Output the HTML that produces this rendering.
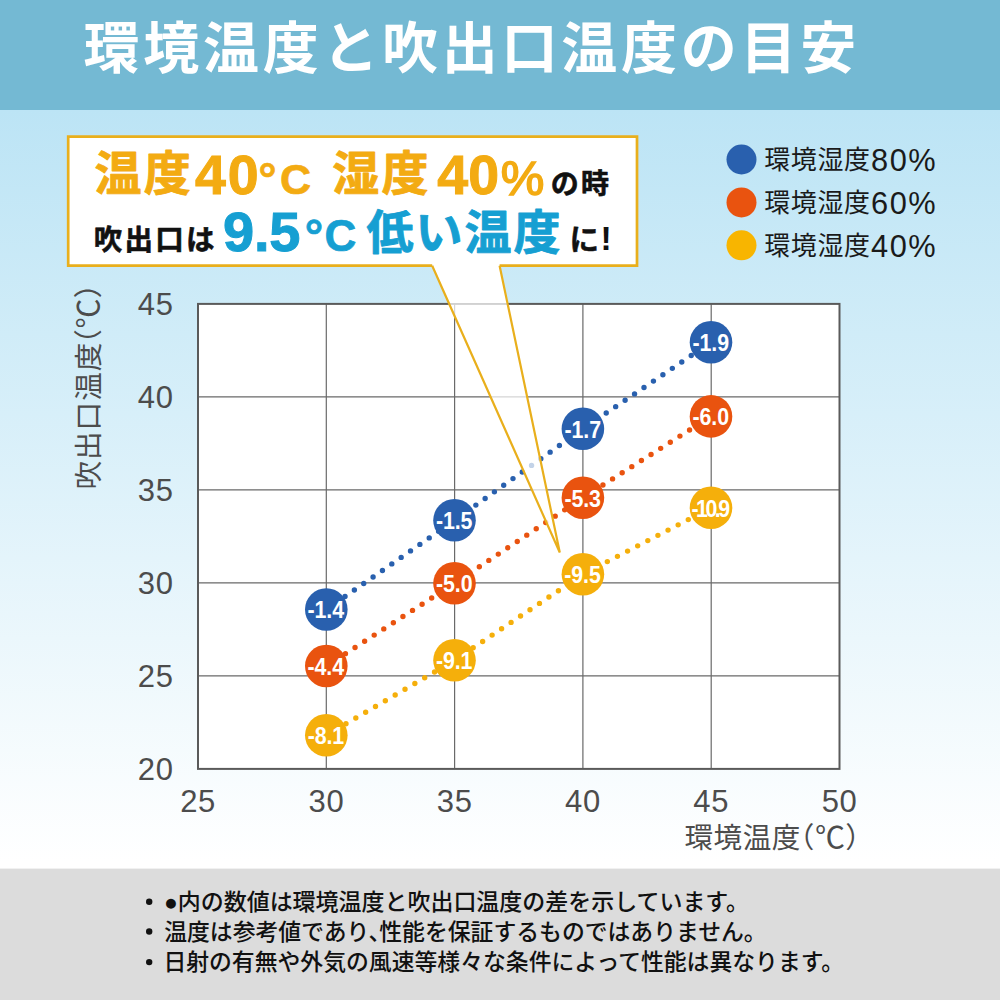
<!DOCTYPE html>
<html lang="ja">
<head>
<meta charset="utf-8">
<title>環境温度と吹出口温度の目安</title>
<style>
html,body{margin:0;padding:0;background:#fff;}
body{width:1000px;height:1000px;overflow:hidden;font-family:"Liberation Sans",sans-serif;}
svg{display:block;font-family:"Liberation Sans",sans-serif;}
.cjk{font-family:"Liberation Sans","Noto Sans CJK JP",sans-serif;}
</style>
</head>
<body>
<svg width="1000" height="1000" viewBox="0 0 1000 1000">
<defs>
<linearGradient id="bg" x1="0" y1="110" x2="0" y2="862" gradientUnits="userSpaceOnUse">
<stop offset="0" stop-color="#bce4f5"/>
<stop offset="1" stop-color="#ffffff"/>
</linearGradient>
</defs>
<rect x="0" y="0" width="1000" height="1000" fill="url(#bg)"/>
<rect x="0" y="0" width="1000" height="110" fill="#74b9d3"/>
<rect x="0" y="868.6" width="1000" height="131.4" fill="#dcdcdc"/>
<text class="cjk" x="83.5" y="67.5" font-size="56" font-weight="bold" fill="#ffffff" letter-spacing="3.72">環境温度と吹出口温度の目安</text>
<rect x="198.0" y="303.9" width="641.5" height="465.0" fill="#fff"/>
<path d="M326.3 303.9V768.9M454.6 303.9V768.9M582.9 303.9V768.9M711.2 303.9V768.9M198.0 675.9H839.5M198.0 582.9H839.5M198.0 489.9H839.5M198.0 396.9H839.5" stroke="#6a6a6a" stroke-width="1.2" fill="none"/>
<rect x="198.0" y="303.9" width="641.5" height="465.0" fill="none" stroke="#5a5a5a" stroke-width="2"/>
<g font-size="31" fill="#4c4c4c" letter-spacing="0.7"><text x="173.6" y="779.9" text-anchor="end">20</text><text x="173.6" y="686.9" text-anchor="end">25</text><text x="173.6" y="593.9" text-anchor="end">30</text><text x="173.6" y="500.9" text-anchor="end">35</text><text x="173.6" y="407.9" text-anchor="end">40</text><text x="173.6" y="314.9" text-anchor="end">45</text><text x="198.1" y="811.6" text-anchor="middle">25</text><text x="326.4" y="811.6" text-anchor="middle">30</text><text x="454.7" y="811.6" text-anchor="middle">35</text><text x="583.0" y="811.6" text-anchor="middle">40</text><text x="711.3" y="811.6" text-anchor="middle">45</text><text x="839.6" y="811.6" text-anchor="middle">50</text></g>
<text class="cjk" x="684.4" y="848.3" font-size="28.6" fill="#4c4c4c" letter-spacing="0.55">環境温度</text>
<text class="cjk" x="785.78" y="848" font-size="28.6" fill="#4c4c4c">（</text>
<text class="cjk" x="815" y="848" font-size="30" fill="#4c4c4c">℃</text>
<text class="cjk" x="845.36" y="848" font-size="28.6" fill="#4c4c4c">）</text>
<g transform="translate(98.8 489.6) rotate(-90)">
<text class="cjk" x="0" y="0" font-size="28.6" fill="#4c4c4c" letter-spacing="1">吹出口温度</text>
<text class="cjk" x="131.88" y="-0.3" font-size="28.6" fill="#4c4c4c">（</text>
<text class="cjk" x="161.1" y="-0.3" font-size="30" fill="#4c4c4c">℃</text>
<text class="cjk" x="191.46" y="-0.3" font-size="28.6" fill="#4c4c4c">）</text>
</g>
<path d="M326.3 609.5L454.5 520.3L582.9 428.8L711.0 342.2" fill="none" stroke="#2960AE" stroke-width="5.4" stroke-linecap="round" stroke-dasharray="0 11.4"/>
<path d="M326.3 666.0L454.5 583.3L582.9 497.7L711.0 416.4" fill="none" stroke="#E9530F" stroke-width="5.4" stroke-linecap="round" stroke-dasharray="0 11.4"/>
<path d="M326.3 735.3L454.5 660.3L582.9 574.3L711.0 507.8" fill="none" stroke="#F5AF0B" stroke-width="5.4" stroke-linecap="round" stroke-dasharray="0 11.4"/>
<path d="M432.2 265.7L559.8 552.5L499.6 265.7Z" fill="#fff" fill-opacity="0.72"/>
<path d="M433.6 263H498.2V265.7H499.6L507.4 303H448.8L432.2 265.7H433.6Z" fill="#fff"/>
<rect x="68.2" y="136.6" width="568.8" height="129.1" fill="#fff"/>
<path d="M432.2 265.7H68.2V136.6H637V265.7H499.6" fill="none" stroke="#e9af1c" stroke-width="2.7" stroke-linejoin="miter"/>
<path d="M432.2 265.7L559.8 552.5L499.6 265.7" fill="none" stroke="#e9af1c" stroke-width="2.2" stroke-linejoin="miter" stroke-miterlimit="3"/>
<circle cx="326.3" cy="609.5" r="21.3" fill="#2960AE"/>
<circle cx="454.5" cy="520.3" r="21.3" fill="#2960AE"/>
<circle cx="582.9" cy="428.8" r="21.3" fill="#2960AE"/>
<circle cx="711.0" cy="342.2" r="21.3" fill="#2960AE"/>
<circle cx="326.3" cy="666.0" r="21.3" fill="#E9530F"/>
<circle cx="454.5" cy="583.3" r="21.3" fill="#E9530F"/>
<circle cx="582.9" cy="497.7" r="21.3" fill="#E9530F"/>
<circle cx="711.0" cy="416.4" r="21.3" fill="#E9530F"/>
<circle cx="326.3" cy="735.3" r="21.3" fill="#F5AF0B"/>
<circle cx="454.5" cy="660.3" r="21.3" fill="#F5AF0B"/>
<circle cx="582.9" cy="574.3" r="21.3" fill="#F5AF0B"/>
<circle cx="711.0" cy="507.8" r="21.3" fill="#F5AF0B"/>
<g transform="translate(326.10 618.30) scale(0.910 1)"><text x="-20.47" y="0.00" font-size="23.50" font-weight="bold" fill="#fff" letter-spacing="-0.10">-1.4</text></g><g transform="translate(454.30 529.10) scale(0.910 1)"><text x="-20.22" y="0.00" font-size="23.50" font-weight="bold" fill="#fff" letter-spacing="-0.10">-1.5</text></g><g transform="translate(582.70 437.60) scale(0.910 1)"><text x="-20.02" y="0.00" font-size="23.50" font-weight="bold" fill="#fff" letter-spacing="-0.10">-1.7</text></g><g transform="translate(710.80 351.00) scale(0.910 1)"><text x="-20.12" y="0.00" font-size="23.50" font-weight="bold" fill="#fff" letter-spacing="-0.10">-1.9</text></g><g transform="translate(326.10 674.80) scale(0.910 1)"><text x="-20.47" y="0.00" font-size="23.50" font-weight="bold" fill="#fff" letter-spacing="-0.10">-4.4</text></g><g transform="translate(454.30 592.10) scale(0.910 1)"><text x="-20.07" y="0.00" font-size="23.50" font-weight="bold" fill="#fff" letter-spacing="-0.10">-5.0</text></g><g transform="translate(582.70 506.50) scale(0.910 1)"><text x="-20.12" y="0.00" font-size="23.50" font-weight="bold" fill="#fff" letter-spacing="-0.10">-5.3</text></g><g transform="translate(710.80 425.20) scale(0.910 1)"><text x="-20.07" y="0.00" font-size="23.50" font-weight="bold" fill="#fff" letter-spacing="-0.10">-6.0</text></g><g transform="translate(326.10 744.10) scale(0.910 1)"><text x="-20.22" y="0.00" font-size="23.50" font-weight="bold" fill="#fff" letter-spacing="-0.10">-8.1</text></g><g transform="translate(454.30 669.10) scale(0.910 1)"><text x="-20.22" y="0.00" font-size="23.50" font-weight="bold" fill="#fff" letter-spacing="-0.10">-9.1</text></g><g transform="translate(582.70 583.10) scale(0.910 1)"><text x="-20.22" y="0.00" font-size="23.50" font-weight="bold" fill="#fff" letter-spacing="-0.10">-9.5</text></g><g transform="translate(710.80 516.60) scale(0.910 1)"><text x="-21.32" y="0.00" font-size="23.50" font-weight="bold" fill="#fff" letter-spacing="-2.75">-10.9</text></g>
<text class="cjk" x="94.4" y="190.3" font-size="47" font-weight="bold" fill="#f3ab12" stroke="#f3ab12" stroke-width="0.9" stroke-linejoin="round" letter-spacing="2.4">温度</text>
<text x="194.96" y="194.00" font-size="55.50" font-weight="bold" fill="#f3ab12" letter-spacing="2.00" stroke="#f3ab12" stroke-width="1.0">40</text>
<text x="258.62" y="194.30" font-size="45.00" font-weight="bold" fill="#f3ab12" stroke="#f3ab12" stroke-width="0.7">°</text>
<text x="280.04" y="194.00" font-size="43.00" font-weight="bold" fill="#f3ab12" stroke="#f3ab12" stroke-width="0.7">C</text>
<text class="cjk" x="332.2" y="190.3" font-size="47" font-weight="bold" fill="#f3ab12" stroke="#f3ab12" stroke-width="0.9" stroke-linejoin="round" letter-spacing="2.4">湿度</text>
<text x="437.16" y="194.00" font-size="55.50" font-weight="bold" fill="#f3ab12" letter-spacing="0.20" stroke="#f3ab12" stroke-width="1.0">40</text>
<text x="500.85" y="194.60" font-size="49.00" fill="#f3ab12" stroke="#f3ab12" stroke-width="1.6">%</text>
<text class="cjk" x="550.8" y="193.6" font-size="28" font-weight="bold" fill="#111" stroke="#111" stroke-width="0.6" stroke-linejoin="round" letter-spacing="2.2">の時</text>
<text class="cjk" x="93.8" y="249.6" font-size="28.5" font-weight="bold" fill="#111" stroke="#111" stroke-width="0.6" stroke-linejoin="round" letter-spacing="2.2">吹出口は</text>
<text x="223.06" y="251.40" font-size="56.00" font-weight="bold" fill="#169fd2" letter-spacing="-0.30" stroke="#169fd2" stroke-width="1.0">9.5</text>
<text x="304.78" y="252.00" font-size="46.00" font-weight="bold" fill="#169fd2" stroke="#169fd2" stroke-width="0.7">°</text>
<text x="324.60" y="250.80" font-size="44.00" font-weight="bold" fill="#169fd2" stroke="#169fd2" stroke-width="0.7">C</text>
<text class="cjk" x="366.6" y="249.3" font-size="47" font-weight="bold" fill="#169fd2" stroke="#169fd2" stroke-width="0.9" stroke-linejoin="round" letter-spacing="2">低い温度</text>
<text class="cjk" x="569.5" y="250.3" font-size="29.5" font-weight="bold" fill="#111" stroke="#111" stroke-width="0.5" stroke-linejoin="round">に</text>
<text x="600.44" y="250.20" font-size="33.50" font-weight="bold" fill="#111">!</text>
<circle cx="741.5" cy="159.5" r="15" fill="#2960AE"/>
<text class="cjk" x="764.2" y="169.1" font-size="26" fill="#1a1a1a" letter-spacing="0.6">環境湿度</text>
<text x="871" y="170.7" font-size="30.8" fill="#1a1a1a" letter-spacing="1.5">80%</text>
<circle cx="741.5" cy="202.4" r="15" fill="#E9530F"/>
<text class="cjk" x="764.2" y="212" font-size="26" fill="#1a1a1a" letter-spacing="0.6">環境湿度</text>
<text x="871" y="213.6" font-size="30.8" fill="#1a1a1a" letter-spacing="1.5">60%</text>
<circle cx="741.5" cy="245.3" r="15" fill="#f8b500"/>
<text class="cjk" x="764.2" y="254.9" font-size="26" fill="#1a1a1a" letter-spacing="0.6">環境湿度</text>
<text x="871" y="256.5" font-size="30.8" fill="#1a1a1a" letter-spacing="1.5">40%</text>
<circle cx="149.2" cy="901.8" r="3.2" fill="#111"/>
<text class="cjk" x="163.9" y="910.1" font-size="22.98" font-weight="500" fill="#111">●内の数値は環境温度と吹出口温度の差を示しています。</text>
<circle cx="149.2" cy="931.5" r="3.2" fill="#111"/>
<text class="cjk" x="164.2" y="939.8" font-size="22.83" font-weight="500" fill="#111">温度は参考値であり、</text>
<text class="cjk" x="379.28" y="939.8" font-size="22.83" font-weight="500" fill="#111">性能を保証するものではありません。</text>
<circle cx="149.2" cy="962.1" r="3.2" fill="#111"/>
<text class="cjk" x="163.4" y="970.4" font-size="22.84" font-weight="500" fill="#111">日射の有無や外気の風速等様々な条件によって性能は異なります。</text>
</svg>
</body>
</html>
